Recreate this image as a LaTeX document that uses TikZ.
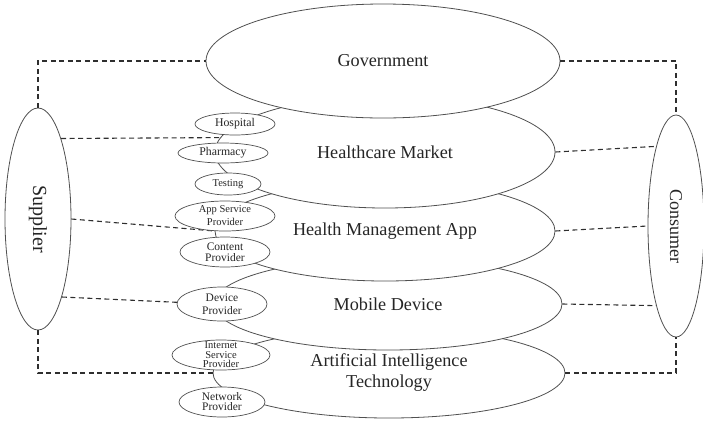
\documentclass[tikz,border=0pt]{standalone}
\usepackage{fontspec}
\setmainfont{Liberation Serif}
\usetikzlibrary{shapes.geometric}
\definecolor{outline}{HTML}{505050}
\definecolor{ink}{HTML}{262626}
\definecolor{linkcol}{HTML}{2E2E2E}
\begin{document}
\begin{tikzpicture}[x=1pt,y=-1pt,
  big/.style={ellipse, draw=outline, fill=white, line width=0.8pt, inner sep=0pt,
    font=\fontsize{18.2}{21}\selectfont, text=ink, align=center},
  small/.style={ellipse, draw=outline, fill=white, line width=0.7pt, inner xsep=0pt, inner ysep=-5pt,
    font=\fontsize{11.5}{13}\selectfont, text=ink, align=center},
  side/.style={ellipse, draw=outline, fill=white, line width=0.8pt, inner sep=0pt, text=ink},
  link/.style={draw=linkcol, line width=1.1pt, dash pattern=on 5pt off 3.5pt}
]
\useasboundingbox (0,0) rectangle (703,424);

% stacked layers, lowest first so each upper layer covers the one below
\node[big, minimum width=352pt, minimum height=90pt] (ai) at (389,373) {Artificial Intelligence\\Technology};
\node[big, minimum width=348pt, minimum height=92pt] (md) at (388,304) {Mobile Device};
\node[big, minimum width=340pt, minimum height=100pt] (hma) at (385,231) {Health Management App};
\node[big, minimum width=340pt, minimum height=112pt] (hm) at (385,152) {Healthcare Market};
\node[big, minimum width=354pt, minimum height=114pt] (gov) at (383,61) {Government};

% actors on both sides
\node[side, minimum width=66pt, minimum height=222pt, font=\fontsize{20}{22}\selectfont] (sup) at (38,219) {\rotatebox{-90}{Supplier}};
\node[side, minimum width=56pt, minimum height=222pt, font=\fontsize{18}{22}\selectfont] (con) at (676,226) {\rotatebox{-90}{Consumer}};

% supplier links
\draw[link] (sup.north) |- (gov.west);
\draw[link] (sup.74) -- (hm.175.5);
\draw[link] (sup.east) -- (hma.west);
\draw[link] (sup.-73.2) -- (md.west);
\draw[link] (sup.south) |- (ai.west);

% consumer links
\draw[link] (gov.east) -| (con.north);
\draw[link] (hm.east) -- (con.104);
\draw[link] (hma.east) -- (con.west);
\draw[link] (md.east) -- (con.-104.3);
\draw[link] (ai.east) -| (con.south);

% stakeholders along the left edge of the layers
\node[small, minimum width=80pt, minimum height=22pt, font=\fontsize{11.8}{13}\selectfont] (hosp) at (235,124) {Hospital};
\node[small, minimum width=90pt, minimum height=20pt, font=\fontsize{11.8}{13}\selectfont] (pharm) at (223,153) {Pharmacy};
\node[small, minimum width=66pt, minimum height=22pt, font=\fontsize{10.5}{13}\selectfont] (test) at (228,184) {Testing};
\node[small, minimum width=100pt, minimum height=30pt, font=\fontsize{10.5}{13}\selectfont] (asp) at (225,216) {App Service\\Provider};
\node[small, minimum width=90pt, minimum height=30pt, font=\fontsize{11.5}{10.5}\selectfont] (cp) at (225,252) {Content\\Provider};
\node[small, minimum width=90pt, minimum height=34pt] (dp) at (222,304) {Device\\Provider};
\node[small, minimum width=98pt, minimum height=30pt, font=\fontsize{10.5}{9.5}\selectfont] (isp) at (221,355) {Internet\\Service\\Provider};
\node[small, minimum width=86pt, minimum height=30pt, font=\fontsize{11.5}{10}\selectfont] (np) at (222,402) {Network\\Provider};
\end{tikzpicture}
\end{document}
